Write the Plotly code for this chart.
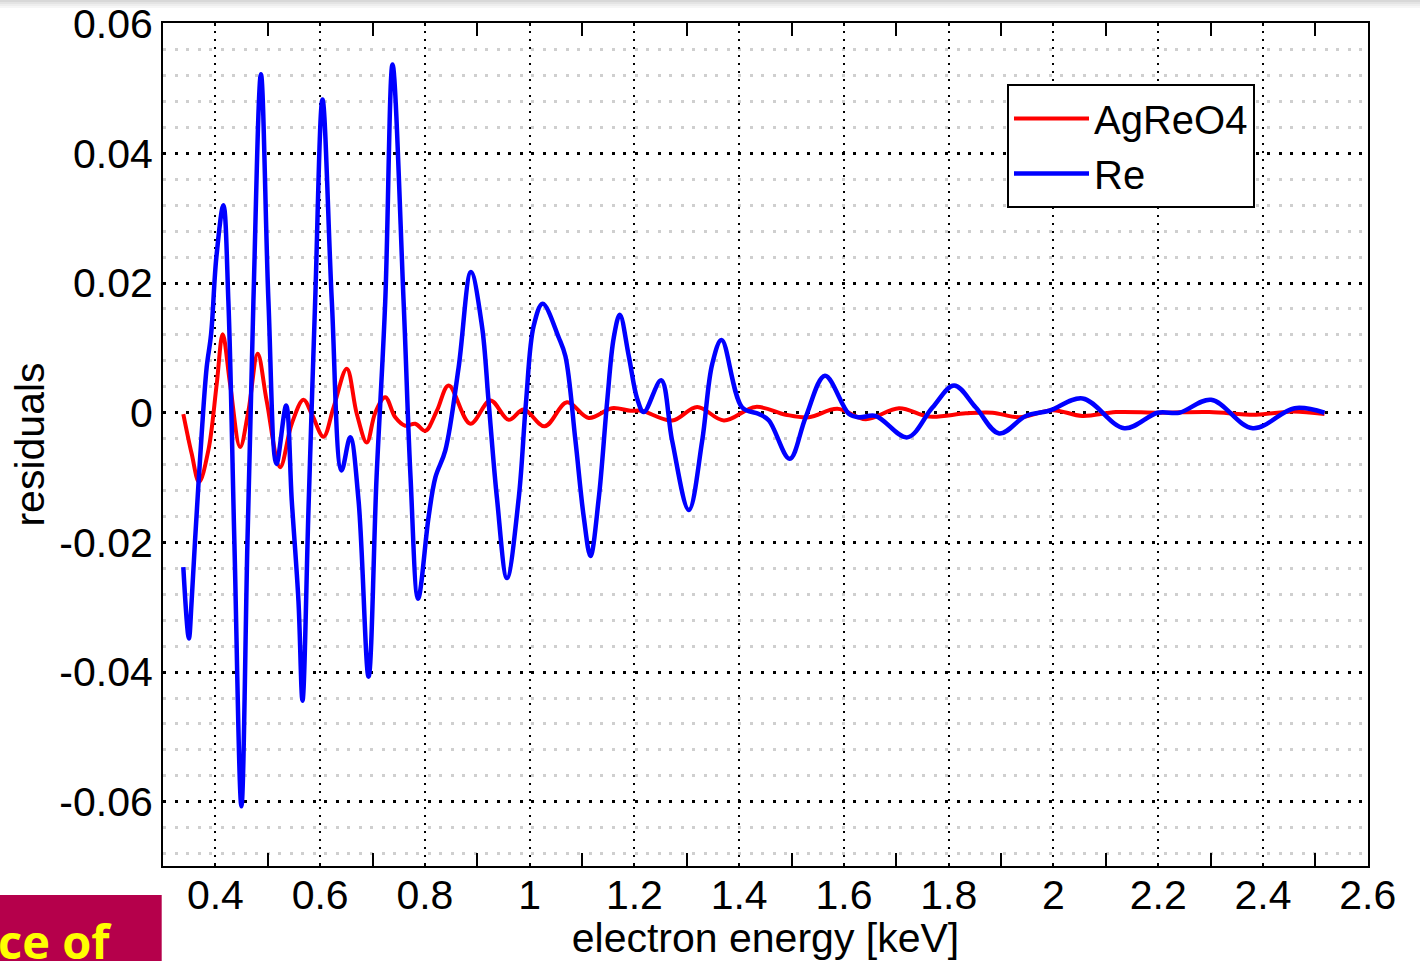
import numpy as np
import plotly.graph_objects as go

# ---- data ----
re_x = [0.3388, 0.3494, 0.3547, 0.3612, 0.3738, 0.3834, 0.3918, 0.4019, 0.4153, 0.4248,
        0.4363, 0.4497, 0.4612, 0.4726, 0.4870, 0.5013, 0.5166, 0.5351, 0.5458, 0.5586,
        0.5663, 0.5777, 0.5905, 0.6045, 0.6223, 0.6408, 0.6574, 0.6733, 0.6924, 0.7077,
        0.7243, 0.7382, 0.7593, 0.7726, 0.7870, 0.8070, 0.8199, 0.8390, 0.8644, 0.8879,
        0.9089, 0.9217, 0.9376, 0.9567, 0.9791, 0.9930, 1.0077, 1.0249, 1.0555, 1.0683,
        1.0874, 1.1033, 1.1161, 1.1319, 1.1478, 1.1606, 1.1721, 1.1893, 1.2051, 1.2179,
        1.2510, 1.2720, 1.3039, 1.3294, 1.3485, 1.3664, 1.4058, 1.4377, 1.4568, 1.4964,
        1.5269, 1.5638, 1.6097, 1.6288, 1.6607, 1.7211, 1.7689, 1.8103, 1.8518, 1.8964,
        1.9474, 1.9920, 2.0556, 2.1353, 2.1990, 2.2404, 2.3010, 2.3805, 2.4602, 2.5175]
re_y = [-0.0238, -0.0348, -0.0290, -0.0197, -0.0033, 0.0070, 0.0121, 0.0240, 0.0320, 0.0172,
        -0.0200, -0.0607, -0.0200, 0.0172, 0.0522, 0.0172, -0.0079, 0.0011, -0.0135, -0.0290,
        -0.0444, -0.0150, 0.0172, 0.0483, 0.0172, -0.0089, -0.0038, -0.0135, -0.0407, -0.0100,
        0.0172, 0.0537, 0.0172, -0.0100, -0.0287, -0.0161, -0.0100, -0.0058, 0.0070, 0.0217,
        0.0134, 0.0016, -0.0132, -0.0255, -0.0132, 0.0016, 0.0134, 0.0168, 0.0116, 0.0087,
        -0.0043, -0.0161, -0.0221, -0.0132, 0.0016, 0.0116, 0.0151, 0.0087, 0.0022, 0.0001,
        0.0050, -0.0043, -0.0150, -0.0043, 0.0075, 0.0112, 0.0008, -0.0002, -0.0012, -0.0071,
        -0.0007, 0.0057, -0.0002, -0.0007, -0.0005, -0.0038, 0.0008, 0.0042, 0.0008, -0.0032,
        -0.0005, 0.0003, 0.0022, -0.0024, 0.0000, 0.0000, 0.0020, -0.0024, 0.0007, 0.0000]

ag_x = [0.3388, 0.3547, 0.3689, 0.3866, 0.4025, 0.4140, 0.4281, 0.4472, 0.4631, 0.4808,
        0.4980, 0.5236, 0.5458, 0.5682, 0.5840, 0.6064, 0.6255, 0.6509, 0.6700, 0.6891,
        0.7052, 0.7243, 0.7434, 0.7625, 0.7816, 0.8007, 0.8229, 0.8453, 0.8867, 0.9250,
        0.9599, 0.9886, 1.0287, 1.0714, 1.1128, 1.1573, 1.1925, 1.2141, 1.2720, 1.3198,
        1.3708, 1.4314, 1.4887, 1.5332, 1.5873, 1.6416, 1.7052, 1.7626, 1.8327, 1.8836,
        1.9346, 1.9982, 2.0549, 2.1193, 2.2020, 2.2976, 2.3869, 2.4568, 2.5175]
ag_y = [-0.0002, -0.0063, -0.0107, -0.0058, 0.0044, 0.0121, 0.0044, -0.0053, 0.0003, 0.0091,
        0.0018, -0.0084, -0.0017, 0.0020, -0.0002, -0.0037, 0.0008, 0.0068, -0.0002, -0.0046,
        0.0000, 0.0024, -0.0007, -0.0020, -0.0017, -0.0028, 0.0003, 0.0042, -0.0017, 0.0019,
        -0.0011, 0.0005, -0.0021, 0.0016, -0.0008, 0.0007, 0.0003, 0.0003, -0.0012, 0.0009,
        -0.0012, 0.0009, -0.0003, -0.0007, 0.0006, -0.0010, 0.0007, -0.0006, -0.0001, 0.0000,
        -0.0007, 0.0004, -0.0005, 0.0001, 0.0000, 0.0001, -0.0003, 0.0002, -0.0002]

y_tickvals = [-0.06, -0.04, -0.02, 0, 0.02, 0.04, 0.06]
y_ticktext = ["-0.06", "-0.04", "-0.02", "0", "0.02", "0.04", "0.06"]
series_names = ["AgReO4", "Re"]

FONT = "Liberation Sans, Arial, Helvetica, sans-serif"
PW, PH = 1205, 843  # plot area size in px

fig = go.Figure()
fig.add_trace(go.Scatter(x=ag_x, y=ag_y, mode="lines", name=series_names[0],
                         line=dict(color="#ff0000", width=4, shape="spline", smoothing=1.0)))
fig.add_trace(go.Scatter(x=re_x, y=re_y, mode="lines", name=series_names[1],
                         line=dict(color="#0000ff", width=4.5, shape="spline", smoothing=1.0)))

minor_y = [round(v, 4) for v in np.arange(-0.068, 0.0601, 0.004)]
minor_x = [round(v, 2) for v in np.arange(0.3, 2.51, 0.2)]

fig.update_layout(
    width=1420, height=961,
    margin=dict(l=163, r=52, t=23, b=95, autoexpand=False),
    paper_bgcolor="white", plot_bgcolor="white",
    font=dict(family=FONT, size=41, color="black"),
    showlegend=True,
    legend=dict(x=(1007 - 163) / PW, y=(866 - 84) / PH, xanchor="left", yanchor="top",
                bgcolor="white", bordercolor="black", borderwidth=2,
                font=dict(family=FONT, size=40, color="black"),
                itemwidth=75),
    xaxis=dict(
        range=[0.3, 2.6005], tickmode="linear", tick0=0.4, dtick=0.2,
        showline=True, linecolor="black", linewidth=2, mirror="ticks",
        ticks="inside", ticklen=3, tickwidth=1.5, tickcolor="black",
        showgrid=True, gridcolor="black", gridwidth=2, griddash="2px,6px",
        zeroline=False, ticklabelstandoff=-8, automargin=False,
        tickfont=dict(family=FONT, size=41, color="black"),
        title=dict(text="electron energy [keV]", standoff=2,
                   font=dict(family=FONT, size=41, color="black")),
        minor=dict(tickmode="array", tickvals=minor_x, ticks="inside", ticklen=13,
                   tickwidth=2, tickcolor="black", showgrid=False),
    ),
    yaxis=dict(
        range=[-0.0699, 0.0601], tickmode="array", tickvals=y_tickvals, ticktext=y_ticktext,
        showline=True, linecolor="black", linewidth=2, mirror=True,
        ticks="", showgrid=True, gridcolor="black", gridwidth=3, griddash="3px,8.5px",
        zeroline=False, ticklabelstandoff=0, automargin=False,
        tickfont=dict(family=FONT, size=41, color="black"),
        title=dict(text="residuals", standoff=2,
                   font=dict(family=FONT, size=41, color="black")),
        minor=dict(tickmode="array", tickvals=minor_y, ticks="", showgrid=True,
                   gridcolor="#cfcfcf", gridwidth=3, griddash="3px,8.5px"),
    ),
)

# slide artefact: magenta box with yellow text at bottom-left, grey shadow at top
fig.add_shape(type="rect", xref="paper", yref="paper",
              x0=-163 / PW, x1=-1.3 / PW, y0=-100 / PH, y1=-29 / PH,
              fillcolor="#b5004b", line=dict(width=0), layer="above")
fig.add_annotation(xref="paper", yref="paper", x=-167 / PW, y=-41 / PH,
                   xanchor="left", yanchor="top", showarrow=False,
                   text="<b>ce of</b>",
                   font=dict(family="Open Sans, DejaVu Sans, sans-serif", size=47, color="#ffff00"))
for i, c in enumerate(["#d8d8d8", "#e4e4e4", "#eeeeee", "#f6f6f6"]):
    fig.add_shape(type="rect", xref="paper", yref="paper",
                  x0=-163 / PW, x1=1257 / PW, y0=(PH + 23 - 2 * i - 2) / PH, y1=(PH + 23 - 2 * i) / PH,
                  fillcolor=c, line=dict(width=0), layer="below")

fig.write_html("out.html")
